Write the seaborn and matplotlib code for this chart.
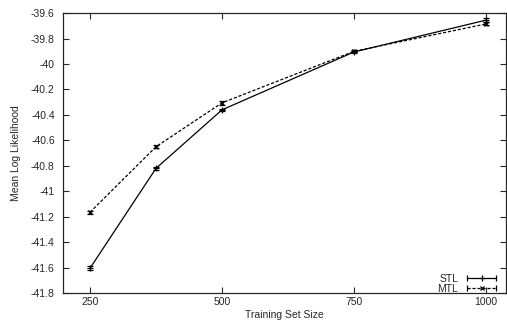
import seaborn as sns
import pandas as pd
import matplotlib.pyplot as plt
from matplotlib.lines import Line2D
from matplotlib.legend_handler import HandlerLine2D

sizes = [250, 375, 500, 750, 1000]
stl_mean = [-41.605, -40.82, -40.36, -39.905, -39.655]
stl_err = [0.015, 0.01, 0.01, 0.008, 0.015]
mtl_mean = [-41.165, -40.65, -40.305, -39.90, -39.685]
mtl_err = [0.012, 0.012, 0.015, 0.008, 0.012]

xticks = [250, 500, 750, 1000]
yticks = [-39.6, -39.8, -40, -40.2, -40.4, -40.6, -40.8, -41, -41.2, -41.4, -41.6, -41.8]

sns.set_style('ticks')
plt.rcParams['font.family'] = ['Liberation Sans', 'DejaVu Sans']
plt.rcParams['font.size'] = 7

df = pd.DataFrame({'size': sizes * 2,
                   'mean': stl_mean + mtl_mean,
                   'model': ['STL'] * len(sizes) + ['MTL'] * len(sizes)})

fig = plt.figure(figsize=(5.07, 3.2), dpi=100)
ax = fig.add_axes([0.1243, 0.084, 0.874, 0.875])

dash = (0, (2.5, 1.5))
sns.lineplot(data=df[df.model == 'STL'], x='size', y='mean', color='black', lw=0.9, ax=ax, legend=False)
sns.lineplot(data=df[df.model == 'MTL'], x='size', y='mean', color='black', lw=0.9, ax=ax,
             linestyle=dash, legend=False)

ax.errorbar(sizes, stl_mean, yerr=stl_err, fmt='+', color='black', ms=4, capsize=2,
            elinewidth=0.9, mew=0.9)
ax.errorbar(sizes, mtl_mean, yerr=mtl_err, fmt='x', color='black', ms=3, capsize=2,
            elinewidth=0.9, mew=0.9)

ax.set_xlim(199, 1038)
ax.set_ylim(-41.8, -39.6)
ax.set_xticks(xticks)
ax.set_yticks(yticks)
ax.set_yticklabels([('%g' % v) for v in yticks])
ax.tick_params(direction='in', length=4, width=0.8, top=True, right=True, labelsize=7.5)
ax.tick_params(axis='x', pad=3)
ax.tick_params(axis='y', pad=6)
for s in ax.spines.values():
    s.set_linewidth(0.9)
ax.set_xlabel('Training Set Size', fontsize=7.5, labelpad=2)
ax.set_ylabel('Mean Log Likelihood', fontsize=7.5, labelpad=7)
ax.grid(False)

# gnuplot-like legend samples: line with end caps and a marker in the middle
stl_caps = Line2D([], [], color='black', lw=0.9, marker='|', ms=4, mew=0.9)
stl_mark = Line2D([], [], color='black', lw=0, marker='+', ms=4, mew=0.9)
mtl_caps = Line2D([], [], color='black', lw=0.9, ls=dash, marker='|', ms=4, mew=0.9)
mtl_mark = Line2D([], [], color='black', lw=0, marker='x', ms=3, mew=0.9)
hmap = {stl_caps: HandlerLine2D(numpoints=2), mtl_caps: HandlerLine2D(numpoints=2),
        stl_mark: HandlerLine2D(numpoints=1), mtl_mark: HandlerLine2D(numpoints=1)}
ax.legend([(stl_caps, stl_mark), (mtl_caps, mtl_mark)], ['STL', 'MTL'], handler_map=hmap,
          loc='lower right', bbox_to_anchor=(0.995, -0.02), frameon=False, markerfirst=False,
          fontsize=7.5, handlelength=3.3, labelspacing=0.0, borderaxespad=0.1, handletextpad=0.6)

fig.savefig('out.png', dpi=100)
